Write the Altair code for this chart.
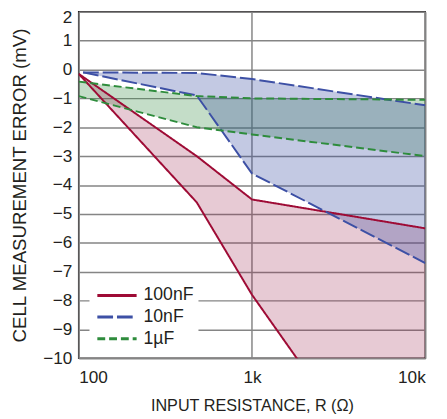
import altair as alt
import pandas as pd

series = ["100nF", "10nF", "1µF"]
colors = ["#9e0b35", "#3d50a5", "#2e8c3c"]
fills = ["#9b234b", "#374ba2", "#3a8e48"]
fill_opacity = [0.24, 0.3, 0.3]
dashes = [[1, 0], [16, 4], [8, 4]]

r_100n = [100, 480, 1000, 10000]
up_100n = [-0.15, -3.0, -4.5, -5.5]
lo_100n = [-0.15, -4.6, -7.8, -16.3]

r_10n = [106, 480, 1000, 10000]
up_10n = [-0.1, -0.12, -0.33, -1.24]
lo_10n = [-0.1, -0.9, -3.6, -6.7]

r_1u = [100, 480, 1000, 10000]
up_1u = [-0.42, -0.92, -1.0, -1.05]
lo_1u = [-0.92, -2.0, -2.25, -3.0]

x_ticks = [100, 1000, 10000]
y_ticks = list(range(-10, 3))

FONT = "Liberation Sans, Arial, sans-serif"
TXT = "#231f20"

band_rows = []
line_rows = []
for s, r, up, lo in [("100nF", r_100n, up_100n, lo_100n),
                     ("10nF", r_10n, up_10n, lo_10n),
                     ("1µF", r_1u, up_1u, lo_1u)]:
    for i in range(len(r)):
        band_rows.append({"series": s, "R": r[i], "upper": up[i], "lower": lo[i]})
        line_rows.append({"series": s, "bound": "upper", "R": r[i], "mV": up[i]})
        line_rows.append({"series": s, "bound": "lower", "R": r[i], "mV": lo[i]})
bands = pd.DataFrame(band_rows)
lines = pd.DataFrame(line_rows)

xscale = alt.Scale(type="log", domain=[100, 10000], nice=False)
yscale = alt.Scale(domain=[-10, 2], nice=False)

xaxis = alt.Axis(values=x_ticks, title="INPUT RESISTANCE, R (Ω)",
                 labelExpr="datum.value == 100 ? '100' : datum.value == 1000 ? '1k' : '10k'",
                 grid=True, ticks=False, domain=False, labelPadding=11, titlePadding=12,
                 titleFontSize=16.5)
yaxis = alt.Axis(values=y_ticks, title="CELL MEASUREMENT ERROR (mV)", grid=True,
                 ticks=False, domain=False, labelPadding=7, titlePadding=13, format="d",
                 titleFontSize=19,
                 labelOffset={"condition": {"test": "datum.value == 2", "value": 6}, "value": 0})

def band(idx):
    s = series[idx]
    return alt.Chart(bands).transform_filter(alt.datum.series == s).mark_area(
        opacity=fill_opacity[idx], clip=True, fill=fills[idx]
    ).encode(
        x=alt.X("R:Q", scale=xscale, axis=xaxis),
        y=alt.Y("upper:Q", scale=yscale, axis=yaxis, stack=None),
        y2="lower:Q",
    )

area_layers = [band(2), band(0), band(1)]

leg = dict(orient="none", legendX=11, legendY=276, title=None,
           fillColor="white", padding=4,
           symbolType="M-4,0H4", symbolSize=100,
           symbolStrokeWidth=3, symbolOffset=15,
           labelOffset=18, rowPadding=4,
           labelFontSize=18, labelFont=FONT, labelColor=TXT)

line_layer = alt.Chart(lines).mark_line(clip=True, strokeWidth=2).encode(
    x=alt.X("R:Q", scale=xscale, axis=xaxis),
    y=alt.Y("mV:Q", scale=yscale, axis=yaxis),
    stroke=alt.Stroke("series:N", scale=alt.Scale(domain=series, range=colors),
                      legend=alt.Legend(**leg)),
    strokeDash=alt.StrokeDash("series:N", scale=alt.Scale(domain=series, range=dashes),
                              legend=alt.Legend(**leg)),
    detail="bound:N",
    order=alt.Order("R:Q"),
)

chart = alt.layer(*area_layers, line_layer).properties(
    width=353, height=353,
    autosize=alt.AutoSizeParams(type="none"),
    padding={"left": 72, "top": 0, "right": 14, "bottom": 58},
).configure_view(
    stroke=TXT, strokeWidth=1.5
).configure_axis(
    labelFont=FONT, titleFont=FONT, labelFontSize=17.5,
    labelColor=TXT, titleColor=TXT, titleFontWeight="normal",
    gridColor="#858585", gridWidth=1.5, gridOpacity=1,
)

chart.save("out.html", embed_options={"renderer": "svg", "actions": False})
